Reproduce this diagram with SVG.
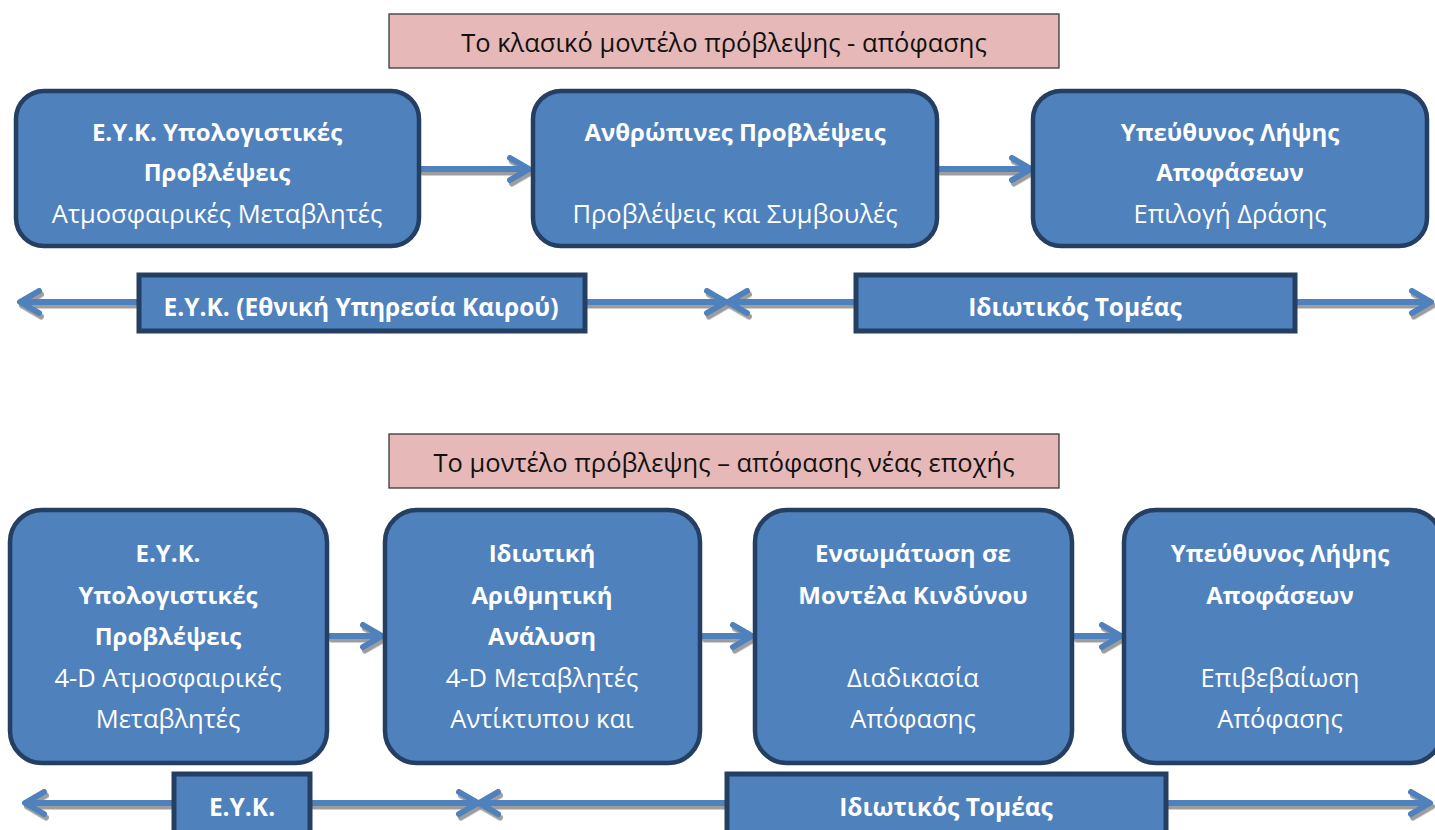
<svg xmlns="http://www.w3.org/2000/svg" width="1435" height="830" viewBox="0 0 1435 830">
  <defs>
    <filter id="shadow" x="-5%" y="-50%" width="110%" height="200%">
      <feDropShadow dx="2" dy="3.5" stdDeviation="0.6" flood-color="#8c8c8c" flood-opacity="0.85"/>
    </filter>
    <style>
      text { font-family: "Open Sans", "Noto Sans", "DejaVu Sans", sans-serif; text-anchor: middle; dominant-baseline: central; }
      .title rect { fill: #e6b9b8; stroke: #3a3a3a; stroke-width: 1.3; }
      .title text { fill: #111; font-size: 25.5px; }
      .node rect { fill: #4f81bd; stroke: #253f62; stroke-width: 4.5; }
      .node text { fill: #ffffff; font-size: 25.5px; }
      .node text.b { font-weight: bold; font-size: 24px; }
      .bar rect { fill: #4f81bd; stroke: #253f62; stroke-width: 5; }
      .bar text { fill: #ffffff; font-size: 24.5px; font-weight: bold; }
      #connectors path { fill: none; stroke: #4f81bd; stroke-width: 6; stroke-linecap: round; stroke-linejoin: round; filter: url(#shadow); }
    </style>
  </defs>
  <rect width="1435" height="830" fill="#ffffff"/>

  <!-- connectors (drawn first so the band lines pass under their boxes) -->
  <g id="connectors">
    <!-- classic model: flow arrows -->
    <path d="M421,169 H527 M510,158 L529,169 L510,180"/>
    <path d="M939,169 H1029 M1012,158 L1031,169 L1012,180"/>
    <!-- classic model: sector band -->
    <path d="M24,302 H140 M39,291 L20,302 L39,313"/>
    <path d="M585,302 H723 M707,291 L726,302 L707,313"/>
    <path d="M731,302 H857 M747,291 L728,302 L747,313"/>
    <path d="M1295,302 H1428 M1412,291 L1431,302 L1412,313"/>
    <!-- new-era model: flow arrows -->
    <path d="M330,636 H379 M363,625 L382,636 L363,647"/>
    <path d="M703,636 H749 M733,625 L752,636 L733,647"/>
    <path d="M1075,636 H1118 M1102,625 L1121,636 L1102,647"/>
    <!-- new-era model: sector band -->
    <path d="M29,803 H175 M44,792 L25,803 L44,814"/>
    <path d="M310,803 H474 M459,792 L478,803 L459,814"/>
    <path d="M482,803 H728 M498,792 L479,803 L498,814"/>
    <path d="M1166,803 H1426 M1411,792 L1430,803 L1411,814"/>
  </g>

  <!-- classic forecast-decision model -->
  <g id="title-classic" class="title">
    <rect x="389" y="14" width="670" height="54"/>
    <text x="724" y="42">Το κλασικό μοντέλο πρόβλεψης - απόφασης</text>
  </g>
  <g id="c-nws" class="node">
    <rect x="16" y="91" width="403" height="155" rx="28"/>
    <text class="b" x="217" y="131">Ε.Υ.Κ. Υπολογιστικές</text>
    <text class="b" x="217" y="171">Προβλέψεις</text>
    <text x="217" y="213">Ατμοσφαιρικές Μεταβλητές</text>
  </g>
  <g id="c-human" class="node">
    <rect x="533" y="91" width="404" height="155" rx="28"/>
    <text class="b" x="735" y="131">Ανθρώπινες Προβλέψεις</text>
    <text x="735" y="213">Προβλέψεις και Συμβουλές</text>
  </g>
  <g id="c-decision" class="node">
    <rect x="1033" y="91" width="394" height="155" rx="28"/>
    <text class="b" x="1230" y="131">Υπεύθυνος Λήψης</text>
    <text class="b" x="1230" y="171">Αποφάσεων</text>
    <text x="1230" y="213">Επιλογή Δράσης</text>
  </g>
  <g id="c-band-public" class="bar">
    <rect x="139" y="275" width="446" height="56"/>
    <text x="361" y="306">Ε.Υ.Κ. (Εθνική Υπηρεσία Καιρού)</text>
  </g>
  <g id="c-band-private" class="bar">
    <rect x="856" y="275" width="439" height="56"/>
    <text x="1075" y="306">Ιδιωτικός Τομέας</text>
  </g>

  <!-- new-era forecast-decision model -->
  <g id="title-new" class="title">
    <rect x="389" y="434" width="670" height="54"/>
    <text x="724" y="462">Το μοντέλο πρόβλεψης – απόφασης νέας εποχής</text>
  </g>
  <g id="n-nws" class="node">
    <rect x="10" y="510" width="317" height="253" rx="32"/>
    <text class="b" x="168" y="552">Ε.Υ.Κ.</text>
    <text class="b" x="168" y="594">Υπολογιστικές</text>
    <text class="b" x="168" y="635">Προβλέψεις</text>
    <text x="168" y="677">4-D Ατμοσφαιρικές</text>
    <text x="168" y="718">Μεταβλητές</text>
  </g>
  <g id="n-private" class="node">
    <rect x="385" y="510" width="315" height="253" rx="32"/>
    <text class="b" x="542" y="552">Ιδιωτική</text>
    <text class="b" x="542" y="594">Αριθμητική</text>
    <text class="b" x="542" y="635">Ανάλυση</text>
    <text x="542" y="677">4-D Μεταβλητές</text>
    <text x="542" y="718">Αντίκτυπου και</text>
  </g>
  <g id="n-risk" class="node">
    <rect x="755" y="510" width="317" height="253" rx="32"/>
    <text class="b" x="913" y="552">Ενσωμάτωση σε</text>
    <text class="b" x="913" y="594">Μοντέλα Κινδύνου</text>
    <text x="913" y="677">Διαδικασία</text>
    <text x="913" y="718">Απόφασης</text>
  </g>
  <g id="n-decision" class="node">
    <rect x="1124" y="510" width="318" height="253" rx="32"/>
    <text class="b" x="1280" y="552">Υπεύθυνος Λήψης</text>
    <text class="b" x="1280" y="594">Αποφάσεων</text>
    <text x="1280" y="677">Επιβεβαίωση</text>
    <text x="1280" y="718">Απόφασης</text>
  </g>
  <g id="n-band-public" class="bar">
    <rect x="174" y="774" width="136" height="60"/>
    <text x="242" y="806">Ε.Υ.Κ.</text>
  </g>
  <g id="n-band-private" class="bar">
    <rect x="727" y="774" width="439" height="60"/>
    <text x="946" y="806">Ιδιωτικός Τομέας</text>
  </g>
</svg>
